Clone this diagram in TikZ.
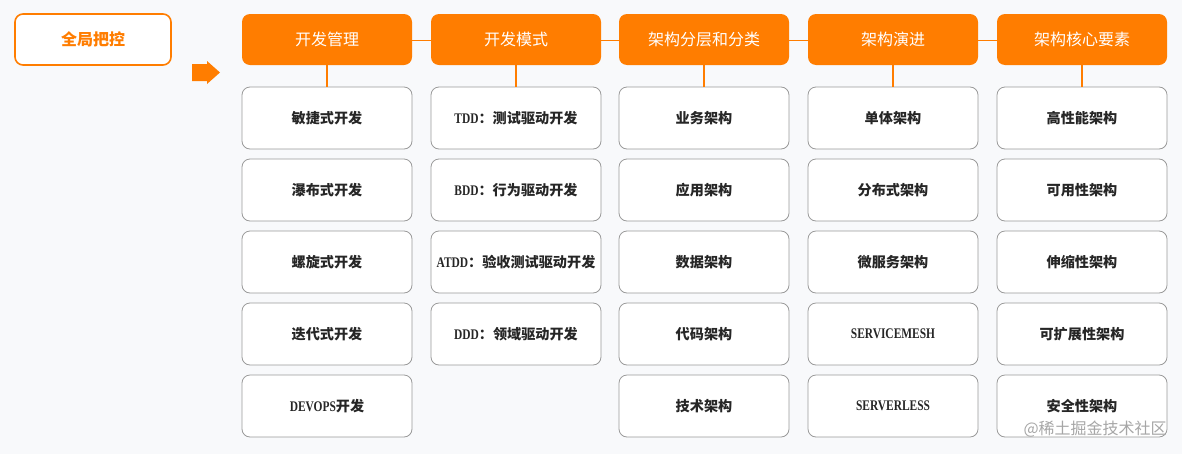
\documentclass[tikz,border=0pt]{standalone}
\usepackage{fontspec}
\setmainfont{Noto Sans CJK SC}
\newfontfamily\latf[FakeStretch=0.78,BoldFont={Liberation Serif Bold},BoldFeatures={FakeStretch=0.78}]{Liberation Serif Bold}
\newcommand{\lt}[1]{{\latf\fontsize{11pt}{12pt}\selectfont #1}}
\definecolor{bgc}{HTML}{F8F9FB}
\definecolor{org}{HTML}{FF7D00}
\definecolor{bordc}{HTML}{9A9A9A}
\definecolor{txtc}{HTML}{262626}
\tikzset{
  hdr/.style={fill=org, draw=none, rounded corners=6pt, minimum width=127.5pt, minimum height=38.25pt, text=white, font=\fontsize{12pt}{14pt}\selectfont, inner sep=0pt},
  child/.style={fill=white, draw=bordc, line width=0.6pt, rounded corners=6pt, minimum width=127.5pt, minimum height=46.5pt, text=txtc, font=\bfseries\fontsize{10.6pt}{12pt}\selectfont, inner sep=0pt},
  glob/.style={fill=white, draw=org, line width=1.2pt, rounded corners=6pt, minimum width=117pt, minimum height=38.25pt, text=org, font=\bfseries\fontsize{12pt}{14pt}\selectfont, inner sep=0pt},
  link/.style={draw=org, line width=0.8pt},
}
\begin{document}
\begin{tikzpicture}[x=0.75pt,y=-0.75pt]
\fill[bgc] (0,0) rectangle (1182,454);
\useasboundingbox (0,0) rectangle (1182,454);
% global box
\node[glob] (g) at (93,39.5) {全局把控};
% arrow
\fill[org] (192,64) -- (207,64) -- (207,61) -- (220,72.5) -- (207,84) -- (207,81) -- (192,81) -- cycle;
% headers
\node[hdr] (h1) at (327,39.5) {开发管理};
\node[hdr] (h2) at (516,39.5) {开发模式};
\node[hdr] (h3) at (704,39.5) {架构分层和分类};
\node[hdr] (h4) at (893,39.5) {架构演进};
\node[hdr] (h5) at (1082,39.5) {架构核心要素};
\draw[link] ([yshift=-0.4pt]h1.east) -- ([yshift=-0.4pt]h2.west);
\draw[link] ([yshift=-0.4pt]h2.east) -- ([yshift=-0.4pt]h3.west);
\draw[link] ([yshift=-0.4pt]h3.east) -- ([yshift=-0.4pt]h4.west);
\draw[link] ([yshift=-0.4pt]h4.east) -- ([yshift=-0.4pt]h5.west);
% column 1
\node[child] (a1) at (327,118) {敏捷式开发};
\node[child] (a2) at (327,190) {瀑布式开发};
\node[child] (a3) at (327,262) {螺旋式开发};
\node[child] (a4) at (327,334) {迭代式开发};
\node[child] (a5) at (327,406) {\lt{DEVOPS}开发};
% column 2
\node[child] (b1) at (516,118) {\lt{TDD}：测试驱动开发};
\node[child] (b2) at (516,190) {\lt{BDD}：行为驱动开发};
\node[child] (b3) at (516,262) {\lt{ATDD}：验收测试驱动开发};
\node[child] (b4) at (516,334) {\lt{DDD}：领域驱动开发};
% column 3
\node[child] (c1) at (704,118) {业务架构};
\node[child] (c2) at (704,190) {应用架构};
\node[child] (c3) at (704,262) {数据架构};
\node[child] (c4) at (704,334) {代码架构};
\node[child] (c5) at (704,406) {技术架构};
% column 4
\node[child] (d1) at (893,118) {单体架构};
\node[child] (d2) at (893,190) {分布式架构};
\node[child] (d3) at (893,262) {微服务架构};
\node[child] (d4) at (893,334) {\lt{SERVICEMESH}};
\node[child] (d5) at (893,406) {\lt{SERVERLESS}};
% column 5
\node[child] (e1) at (1082,118) {高性能架构};
\node[child] (e2) at (1082,190) {可用性架构};
\node[child] (e3) at (1082,262) {伸缩性架构};
\node[child] (e4) at (1082,334) {可扩展性架构};
\node[child] (e5) at (1082,406) {安全性架构};
% header to first child
\draw[link] (h1.south) -- (a1.north);
\draw[link] (h2.south) -- (b1.north);
\draw[link] (h3.south) -- (c1.north);
\draw[link] (h4.south) -- (d1.north);
\draw[link] (h5.south) -- (e1.north);
% watermark
\node[text=black!35, font=\fontsize{12pt}{14pt}\selectfont, anchor=east, inner sep=0pt] (wm) at (1167,429) {@稀土掘金技术社区};
\end{tikzpicture}
\end{document}
